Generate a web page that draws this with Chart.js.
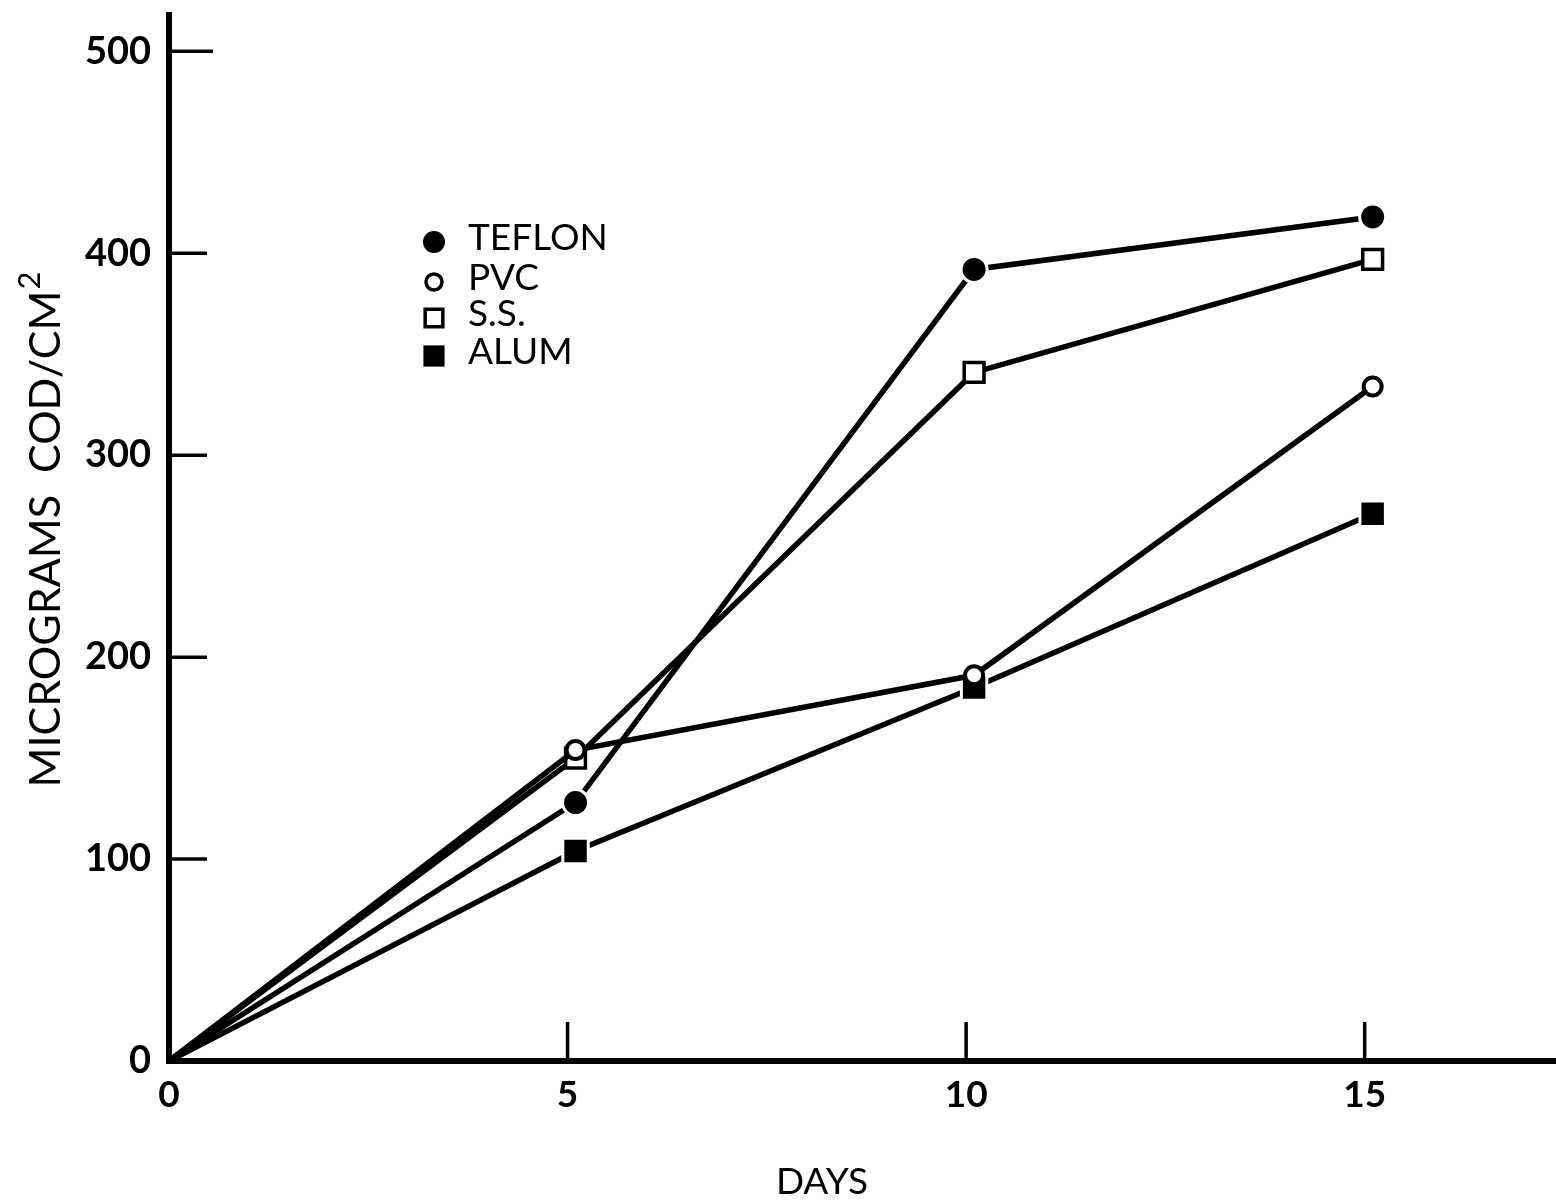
<!DOCTYPE html>
<html>
<head>
<meta charset="utf-8">
<script src="https://cdn.jsdelivr.net/npm/chart.js@4.4.0/dist/chart.umd.min.js"></script>
<style>
  html, body { margin: 0; padding: 0; background: #fff; overflow: hidden; }
  #wrap { width: 1556px; height: 1200px; }
  canvas { display: block; }
</style>
</head>
<body>
<div id="wrap"><canvas id="chart" width="1556" height="1200"></canvas></div>
<script>
// COD build-up on pipe materials vs days
const days = [0, 5.1, 10.1, 15.1];
const teflon = [0, 128, 392, 418];
const pvc = [0, 154, 191, 334];
const stainless = [0, 150, 341, 397];
const alum = [0, 104, 185, 271];
const seriesNames = ['TEFLON', 'PVC', 'S.S.', 'ALUM'];
const xTicks = [0, 5, 10, 15];
const yTicks = [0, 100, 200, 300, 400, 500];

const FONT = 'Lato, "Open Sans", sans-serif';
const toXY = vals => vals.map((v, i) => ({ x: days[i], y: v }));

function series(label, vals, style, filled, r, bw) {
    return {
        label,
        data: toXY(vals),
        borderColor: '#000',
        borderWidth: 5.5,
        tension: 0,
        fill: false,
        pointStyle: style,
        pointRadius: vals.map((v, i) => i === 0 ? 0 : r),
        pointHoverRadius: vals.map((v, i) => i === 0 ? 0 : r),
        pointBackgroundColor: filled ? '#000' : '#fff',
        pointBorderColor: filled ? '#fff' : '#000',
        pointBorderWidth: bw
    };
}

// no extra label padding around the plot box
function fixBox(size, prop) {
    return s => {
        s[prop] = size;
        s.paddingLeft = s.paddingRight = s.paddingTop = s.paddingBottom = 0;
    };
}

// inward tick marks, legend block and axis titles
const decor = {
    id: 'decor',
    beforeDatasetsDraw(chart) {
        const { ctx, scales: { x, y } } = chart;
        ctx.save();
        ctx.strokeStyle = '#000';
        ctx.lineWidth = 3.5;
        const x0 = x.getPixelForValue(0);
        const y0 = y.getPixelForValue(0);
        yTicks.slice(1).forEach(v => {
            const py = y.getPixelForValue(v);
            ctx.beginPath(); ctx.moveTo(x0, py); ctx.lineTo(x0 + (v === 500 ? 44 : 38), py); ctx.stroke();
        });
        xTicks.slice(1).forEach(v => {
            const px = x.getPixelForValue(v);
            ctx.beginPath(); ctx.moveTo(px, y0); ctx.lineTo(px, y0 - 39); ctx.stroke();
        });
        ctx.restore();
    },
    afterDraw(chart) {
        const { ctx } = chart;
        ctx.save();

        // legend
        const rows = [
            { style: 'circle', filled: true, r: 11, yy: 242 },
            { style: 'circle', filled: false, r: 8, yy: 282 },
            { style: 'rect', filled: false, r: 12.5, yy: 318 },
            { style: 'rect', filled: true, r: 15, yy: 356 }
        ];
        ctx.font = '37px ' + FONT;
        ctx.textBaseline = 'middle';
        rows.forEach((row, i) => {
            ctx.fillStyle = row.filled ? '#000' : '#fff';
            ctx.strokeStyle = '#000';
            ctx.lineWidth = row.filled ? 0.01 : 3.5;
            Chart.helpers.drawPoint(ctx, { pointStyle: row.style, radius: row.r, borderWidth: ctx.lineWidth, rotation: 0 }, 434, row.yy);
            ctx.fillStyle = '#000';
            ctx.fillText(seriesNames[i], 468, row.yy - 4);
        });

        // axis titles
        ctx.fillStyle = '#000';
        ctx.font = '37px ' + FONT;
        ctx.textAlign = 'center';
        ctx.textBaseline = 'alphabetic';
        ctx.fillText('DAYS', 822, 1194);

        ctx.translate(60, 530);
        ctx.rotate(-Math.PI / 2);
        const main = 'MICROGRAMS  COD/CM';
        ctx.font = '43px ' + FONT;
        const w1 = ctx.measureText(main).width;
        ctx.font = '31px ' + FONT;
        const w2 = ctx.measureText('2').width;
        const start = -(w1 + w2) / 2;
        ctx.textAlign = 'left';
        ctx.font = '43px ' + FONT;
        ctx.fillText(main, start, 0);
        ctx.font = '31px ' + FONT;
        ctx.fillText('2', start + w1 + 1, -20);
        ctx.restore();
    }
};

new Chart(document.getElementById('chart'), {
    type: 'line',
    data: {
        datasets: [
            series(seriesNames[0], teflon, 'circle', true, 13, 3),
            series(seriesNames[1], pvc, 'circle', false, 9, 4),
            series(seriesNames[2], stainless, 'rect', false, 14, 3.5),
            series(seriesNames[3], alum, 'rect', true, 18, 3)
        ]
    },
    options: {
        responsive: false,
        animation: false,
        devicePixelRatio: 1,
        layout: { autoPadding: false, padding: { top: 15, left: 0, right: 0, bottom: 0 } },
        plugins: { legend: { display: false }, tooltip: { enabled: false } },
        scales: {
            x: {
                type: 'linear',
                min: 0,
                max: 17.4,
                afterFit: fixBox(139, 'height'),
                afterBuildTicks: s => { s.ticks = xTicks.map(v => ({ value: v })); },
                grid: { display: false },
                border: { display: true, color: '#000', width: 6 },
                ticks: { color: '#000', padding: 4, font: { family: FONT, size: 37, weight: 'bold' } }
            },
            y: {
                type: 'linear',
                min: 0,
                max: 518,
                afterFit: fixBox(169, 'width'),
                afterBuildTicks: s => { s.ticks = yTicks.map(v => ({ value: v })); },
                grid: { display: false },
                border: { display: true, color: '#000', width: 6 },
                ticks: { color: '#000', padding: 10, font: { family: FONT, size: 38, weight: 'bold' } }
            }
        }
    },
    plugins: [decor]
});
</script>
</body>
</html>
